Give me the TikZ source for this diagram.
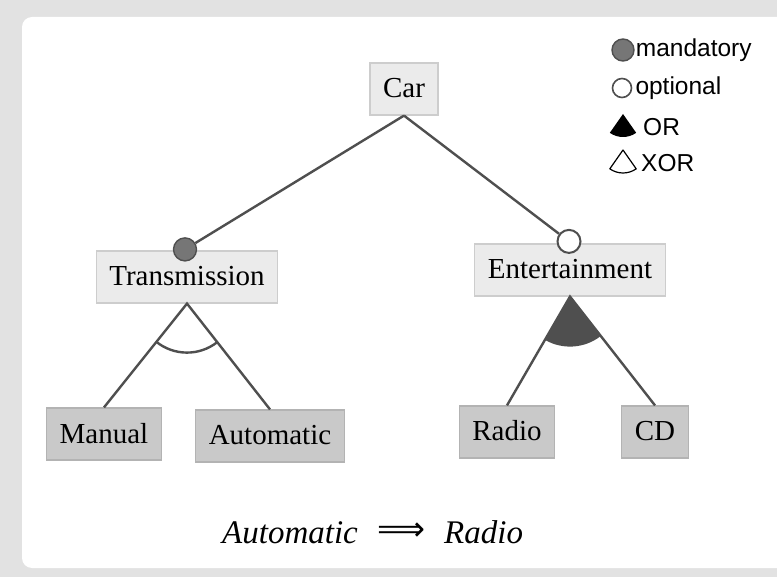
\documentclass[tikz,border=0pt]{standalone}
\usepackage{graphicx}
\usepackage{fontspec}
\setmainfont{Liberation Serif}
\newfontfamily\legendfont{Liberation Sans}
\newfontfamily\arrowfont{DejaVu Sans}
\usetikzlibrary{positioning}

\definecolor{boxlight}{HTML}{EBEBEB}
\definecolor{boxdark}{HTML}{C9C9C9}
\definecolor{borderlight}{HTML}{CDCDCD}
\definecolor{borderdark}{HTML}{B3B3B3}
\definecolor{edgegray}{HTML}{4F4F4F}
\definecolor{dotgray}{HTML}{767676}
\definecolor{pagegray}{HTML}{E2E2E2}

\tikzstyle{feature} = [rectangle, draw=borderlight, fill=boxlight, line width=1.2pt, inner xsep=13pt, minimum height=52pt, text height=22pt, text depth=4pt, font=\fontsize{29}{34}\selectfont]
\tikzstyle{leaf} = [feature, draw=borderdark, fill=boxdark]
\tikzstyle{link} = [draw=edgegray, line width=2.4pt]
\tikzstyle{mand} = [circle, draw=edgegray, fill=dotgray, line width=1.4pt, minimum size=23pt, inner sep=0pt]
\tikzstyle{opt} = [mand, fill=white, line width=2pt]
\tikzstyle{legendtext} = [font=\legendfont\fontsize{24.5}{28}\selectfont, inner sep=0pt, anchor=west]
\tikzstyle{ruletext} = [font=\fontsize{33}{38}\selectfont\itshape, inner sep=0pt]

\begin{document}
\begin{tikzpicture}[x=1pt,y=-1pt]
        \useasboundingbox (0,0) rectangle (777,577);
        % card on a grey page
        \fill[pagegray] (0,0) rectangle (777,577);
        \fill[white, rounded corners=10pt] (22,17) rectangle (800,568);

        % features
        \node (car) at (404,89) [feature] {Car};
        \node (trans) at (187,277) [feature] {Transmission};
        \node (ent) at (570,270) [feature] {Entertainment};
        \node (man) at (104,434) [leaf] {Manual};
        \node (auto) at (270,436) [leaf] {Automatic};
        \node (radio) at (507,432) [leaf] {Radio};
        \node (cd) at (655,432) [leaf] {CD};

        \node (tdot) [mand] at ([xshift=-2pt,yshift=1pt]trans.north) {};
        \node (edot) [opt] at ([xshift=-1pt,yshift=2pt]ent.north) {};
        \draw[link] (car.south) -- (tdot);
        \draw[link] (car.south) -- (edot);

        % XOR group
        \draw[link] (man.north) -- (trans.south) -- (auto.north);
        \draw[link] (trans.south) ++(52:49) arc[start angle=52, end angle=129, radius=49];
        % OR group
        \fill[edgegray] (ent.south) -- ++(52:50) arc[start angle=52, end angle=120, radius=50] -- cycle;
        \draw[link] (radio.north) -- (ent.south) -- (cd.north);

        % legend
        \node (lmand) [mand, minimum size=22pt] at (623,50) {};
        \node (tmand) [legendtext, right=1pt of lmand] {mandatory};
        \node (lopt) [opt, minimum size=19pt, line width=1.6pt] at (622,88) {};
        \node (topt) [legendtext, right=3pt of lopt] {optional};
        \coordinate (lor) at (623,114);
        \fill (lor) -- ++(55:23) arc[start angle=55, end angle=125, radius=23] -- cycle;
        \node (tor) [legendtext] at (643,127) {OR};
        \coordinate (lxor) at (623,150);
        \draw[line width=1.2pt, line join=round] (lxor) -- ++(55:23) arc[start angle=55, end angle=125, radius=23] -- cycle;
        \node (txor) [legendtext] at (641,163) {XOR};

        % cross-tree constraint
        \node (ifpart) [ruletext, anchor=base west] at (222,543) {Automatic};
        \node (implies) [ruletext, anchor=center] at (401,532) {\resizebox{48pt}{!}{\arrowfont ⟹}};
        \node (thenpart) [ruletext, anchor=base west] at (444,543) {Radio};
\end{tikzpicture}
\end{document}
